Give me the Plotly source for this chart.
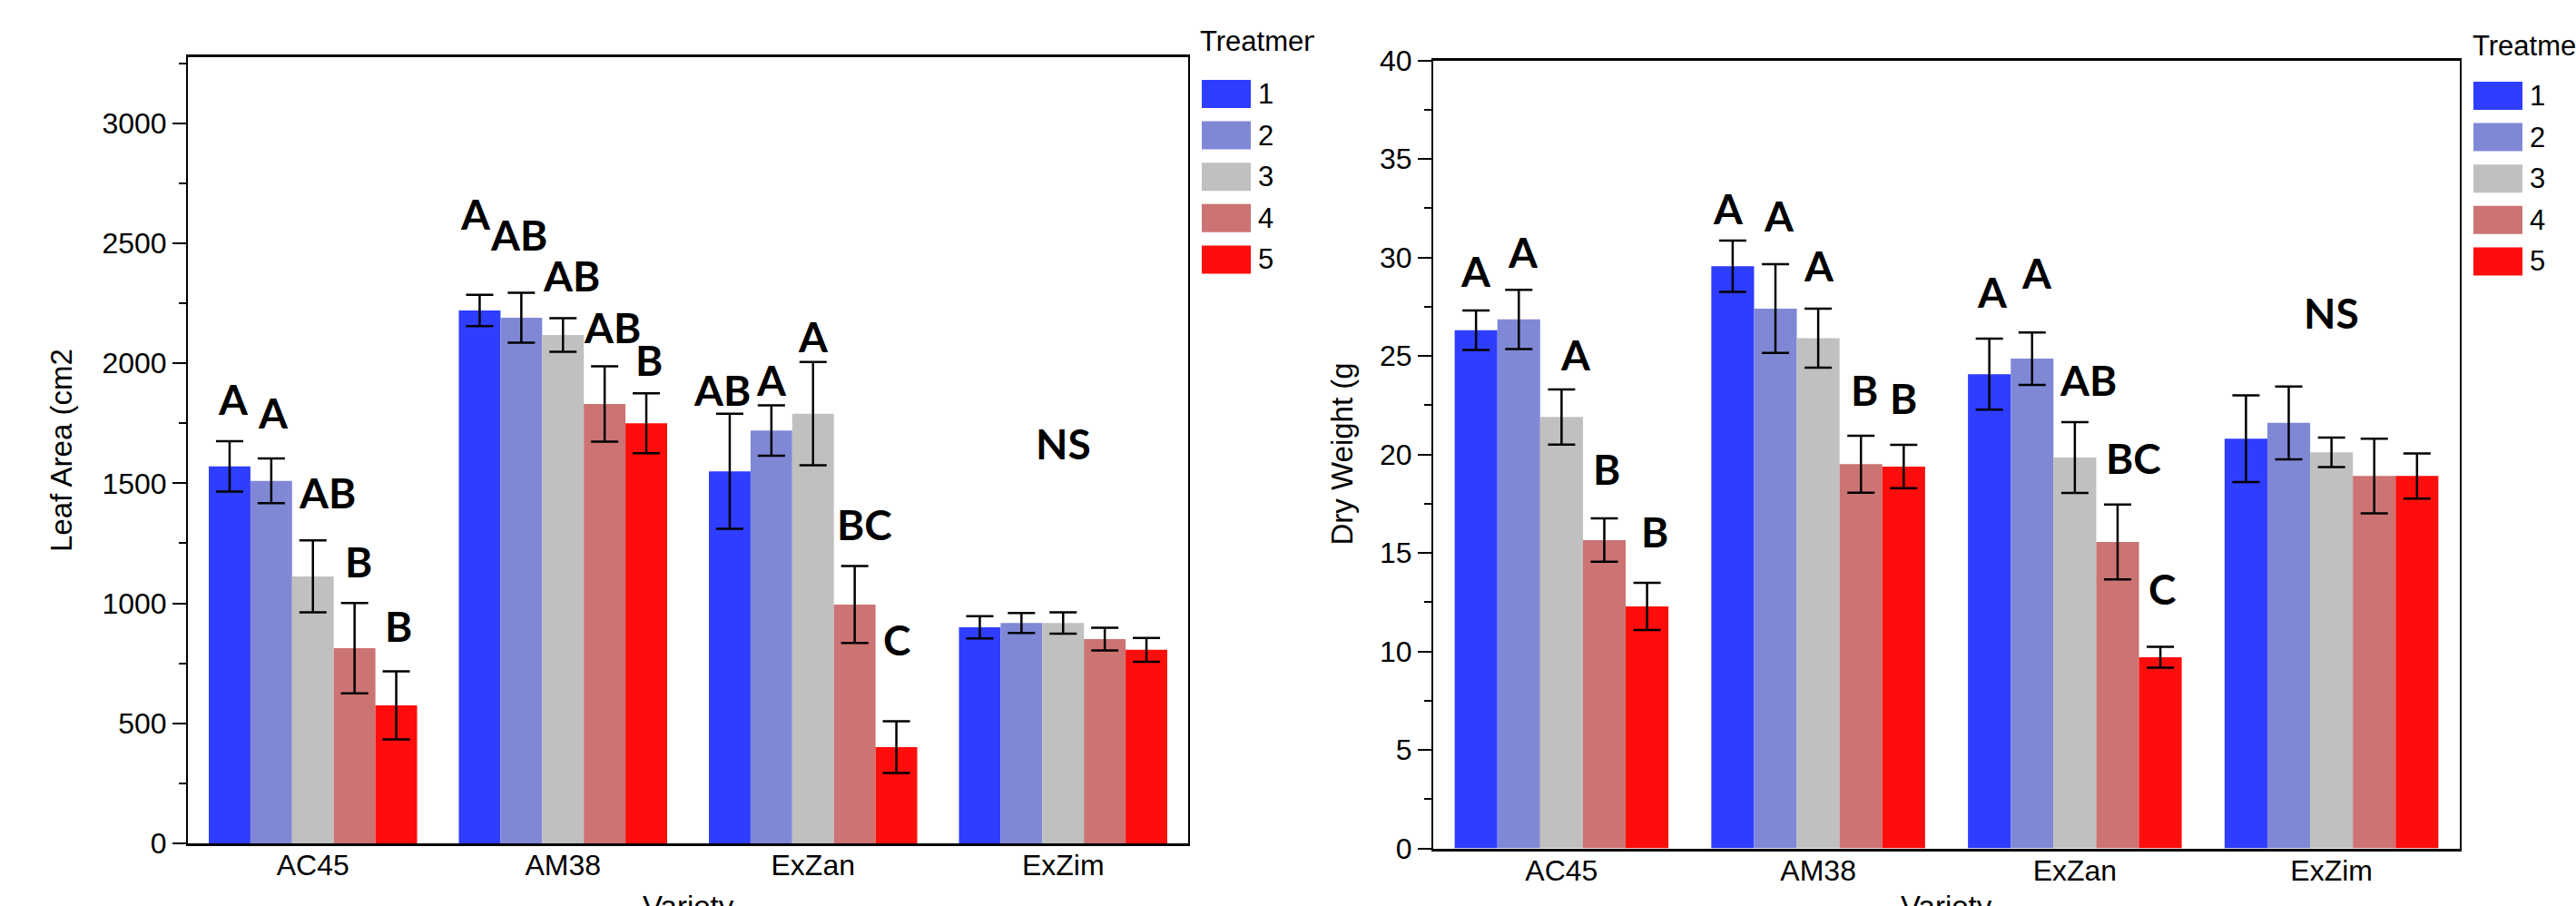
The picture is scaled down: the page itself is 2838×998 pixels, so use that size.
import plotly.graph_objects as go

# ---------------- data ----------------
varieties = ["AC45", "AM38", "ExZan", "ExZim"]
treatments = ["1", "2", "3", "4", "5"]

# Leaf area (cm2): mean per treatment, values over varieties
leaf_t1 = [1570, 2220, 1550, 900]
leaf_t2 = [1510, 2190, 1720, 918]
leaf_t3 = [1112, 2118, 1790, 918]
leaf_t4 = [813, 1830, 995, 851]
leaf_t5 = [575, 1750, 401, 806]
leaf_e1 = [105, 65, 240, 46]
leaf_e2 = [93, 104, 105, 42]
leaf_e3 = [150, 70, 215, 44]
leaf_e4 = [188, 157, 160, 47]
leaf_e5 = [142, 125, 108, 50]

# Dry weight (g)
dry_t1 = [26.3, 29.55, 24.07, 20.8]
dry_t2 = [26.85, 27.4, 24.86, 21.6]
dry_t3 = [21.9, 25.9, 19.84, 20.1]
dry_t4 = [15.65, 19.5, 15.55, 18.9]
dry_t5 = [12.28, 19.38, 9.7, 18.9]
dry_e1 = [1.0, 1.3, 1.8, 2.2]
dry_e2 = [1.5, 2.25, 1.33, 1.85]
dry_e3 = [1.4, 1.5, 1.8, 0.75]
dry_e4 = [1.1, 1.45, 1.9, 1.9]
dry_e5 = [1.2, 1.1, 0.53, 1.15]

# significance letters: per variety, per treatment ("" = none)
leaf_letters = [["A", "A", "AB", "B", "B"],
                ["A", "AB", "AB", "AB", "B"],
                ["AB", "A", "A", "BC", "C"],
                ["", "", "", "", ""]]
dry_letters = [["A", "A", "A", "B", "B"],
               ["A", "A", "A", "B", "B"],
               ["A", "A", "AB", "BC", "C"],
               ["", "", "", "", ""]]
ns_label = "NS"
leaf_ns_y = 1664
dry_ns_y = 27.2

leaf_title = "Leaf Area (cm2"
dry_title = "Dry Weight (g"
x_title = "Variety"
legend_title = "Treatment"

# ---------------- styles ----------------
colors = ["#2E3DFF", "#8088D6", "#C0C0C0", "#CC7373", "#FF0D0D"]
W, H = 2838, 998
BARGAP = 0.167
TICKFONT = dict(family="Liberation Sans, Arial", size=32, color="black")
LETTERFONT = dict(family="Lato", size=46, color="black", weight="bold")

# label offsets (pixels): (yshift above error bar top, xshift)
leaf_off = [[(47, 4), (51, 2), (53, 16), (46, 4), (50, 2)],
            [(89, -4), (64, -3), (47, 9), (43, 8), (37, 3)],
            [(26, -8), (28, 0), (28, 0), (46, 11), (90, 0)],
            [(0, 0)] * 5]
dry_off = [[(44, 0), (42, 5), (38, 16), (55, 3), (56, 8)],
           [(36, -5), (54, 4), (47, 1), (50, 4), (52, 0)],
           [(52, 3), (66, 5), (46, 15), (51, 18), (64, 2)],
           [(0, 0)] * 5]

leaf_means = [leaf_t1, leaf_t2, leaf_t3, leaf_t4, leaf_t5]
leaf_errs = [leaf_e1, leaf_e2, leaf_e3, leaf_e4, leaf_e5]
dry_means = [dry_t1, dry_t2, dry_t3, dry_t4, dry_t5]
dry_errs = [dry_e1, dry_e2, dry_e3, dry_e4, dry_e5]

xpos = list(range(len(varieties)))

fig = go.Figure()
for i, t in enumerate(treatments):
    fig.add_trace(go.Bar(x=xpos, y=leaf_means[i], name=t, marker_color=colors[i],
                         marker_line_width=0,
                         error_y=dict(type="data", array=leaf_errs[i], color="black",
                                      thickness=2.5, width=15),
                         xaxis="x", yaxis="y", showlegend=False))
for i, t in enumerate(treatments):
    fig.add_trace(go.Bar(x=xpos, y=dry_means[i], name=t, marker_color=colors[i],
                         marker_line_width=0,
                         error_y=dict(type="data", array=dry_errs[i], color="black",
                                      thickness=2.5, width=15),
                         xaxis="x2", yaxis="y2", showlegend=False))

# clipped legend title for the left panel (cut like the reference)
fig.add_trace(go.Scatter(x=[0], y=[0.5], mode="text", text=[legend_title],
                         textposition="middle right", cliponaxis=True,
                         textfont=dict(family="Liberation Sans, Arial", size=31, color="black"),
                         xaxis="x3", yaxis="y3", showlegend=False, hoverinfo="skip"))

def px2x(p):
    return p / W

def px2y(p):
    return 1 - p / H

L = dict(x0=207, x1=1309, y0=63, y1=929)
R = dict(x0=1579, x1=2710, y0=66.5, y1=934.5)

common_x = dict(range=[-0.5, 3.5], tickvals=xpos, ticktext=varieties, showline=True,
                linecolor="black", linewidth=3, mirror=True, ticks="",
                ticklabelstandoff=-6,
                showgrid=False, zeroline=False, tickfont=TICKFONT, automargin=False)
common_y = dict(showline=True, linecolor="black", linewidth=2, mirror=True, ticks="outside",
                ticklen=15, tickwidth=2, tickcolor="black", showgrid=False, zeroline=False,
                tickfont=TICKFONT, automargin=False)

fig.update_layout(
    width=W, height=H, autosize=False,
    margin=dict(l=0, r=0, t=0, b=0, pad=0, autoexpand=False),
    paper_bgcolor="white", plot_bgcolor="white",
    barmode="group", bargap=BARGAP, bargroupgap=0,
    xaxis=dict(domain=[px2x(L["x0"]), px2x(L["x1"])], anchor="y", **common_x),
    yaxis=dict(domain=[px2y(L["y1"]), px2y(L["y0"])], anchor="x", range=[0, 3275],
               tick0=0, dtick=500,
               minor=dict(ticks="outside", ticklen=8, dtick=250, tickwidth=2, tickcolor="black"),
               **common_y),
    xaxis2=dict(domain=[px2x(R["x0"]), px2x(R["x1"])], anchor="y2", **common_x),
    yaxis2=dict(domain=[px2y(R["y1"]), px2y(R["y0"])], anchor="x2", range=[0, 40],
                tick0=0, dtick=5,
                minor=dict(ticks="outside", ticklen=8, dtick=2.5, tickwidth=2, tickcolor="black"),
                **common_y),
    xaxis3=dict(domain=[px2x(1322), px2x(1448)], anchor="y3", range=[0, 1], visible=False,
                fixedrange=True, automargin=False),
    yaxis3=dict(domain=[px2y(75), px2y(22)], anchor="x3", range=[0, 1], visible=False,
                fixedrange=True, automargin=False),
)

ann = []
shapes = []

# significance letters
def bar_offset(j):
    w = (1 - BARGAP) / len(treatments)
    return -(1 - BARGAP) / 2 + (j + 0.5) * w

for letters, means, errs, offs, xr, yr in [
        (leaf_letters, leaf_means, leaf_errs, leaf_off, "x", "y"),
        (dry_letters, dry_means, dry_errs, dry_off, "x2", "y2")]:
    for c in range(len(varieties)):
        for j in range(len(treatments)):
            txt = letters[c][j]
            if not txt:
                continue
            ys, xs = offs[c][j]
            ann.append(dict(x=c + bar_offset(j), y=means[j][c] + errs[j][c], xref=xr, yref=yr,
                            text=txt, showarrow=False, xanchor="center", yanchor="middle",
                            yshift=ys, xshift=xs, font=LETTERFONT))

ann.append(dict(x=3, y=leaf_ns_y, xref="x", yref="y", text=ns_label, showarrow=False,
                font=LETTERFONT, xanchor="center", yanchor="middle"))
ann.append(dict(x=3, y=dry_ns_y, xref="x2", yref="y2", text=ns_label, showarrow=False,
                font=LETTERFONT, xanchor="center", yanchor="middle"))

TITLEFONT = dict(family="Liberation Sans, Arial", size=33, color="black")
# y-axis titles
ann.append(dict(x=px2x(67), y=px2y((L["y0"] + L["y1"]) / 2), xref="paper", yref="paper",
                text=leaf_title, textangle=-90, showarrow=False, font=TITLEFONT,
                xanchor="center", yanchor="middle"))
ann.append(dict(x=px2x(1478), y=px2y((R["y0"] + R["y1"]) / 2), xref="paper", yref="paper",
                text=dry_title, textangle=-90, showarrow=False, font=TITLEFONT,
                xanchor="center", yanchor="middle"))
# x-axis titles (cut at the bottom edge, as in the reference)
ann.append(dict(x=px2x((L["x0"] + L["x1"]) / 2), y=px2y(978), xref="paper", yref="paper",
                text=x_title, showarrow=False, font=TITLEFONT, xanchor="center", yanchor="top"))
ann.append(dict(x=px2x((R["x0"] + R["x1"]) / 2), y=px2y(978), xref="paper", yref="paper",
                text=x_title, showarrow=False, font=TITLEFONT, xanchor="center", yanchor="top"))

# manual legends
LEGFONT = dict(family="Liberation Sans, Arial", size=31, color="black")
for lx, ly in [(1324, 88), (2725, 90)]:
    for j, t in enumerate(treatments):
        top = ly + j * 45.6
        shapes.append(dict(type="rect", xref="paper", yref="paper",
                           x0=px2x(lx), x1=px2x(lx + 54), y0=px2y(top + 31), y1=px2y(top),
                           fillcolor=colors[j], line=dict(width=0)))
        ann.append(dict(x=px2x(lx + 60), y=px2y(top + 15.5), xref="paper", yref="paper",
                        text=t, showarrow=False, font=LEGFONT, xanchor="left", yanchor="middle"))
# right legend title (runs off the right edge like the reference)
ann.append(dict(x=px2x(2722), y=px2y(50), xref="paper", yref="paper", text=legend_title,
                showarrow=False, font=LEGFONT, xanchor="left", yanchor="middle"))

fig.update_layout(annotations=ann, shapes=shapes)
fig.write_html("out.html")
